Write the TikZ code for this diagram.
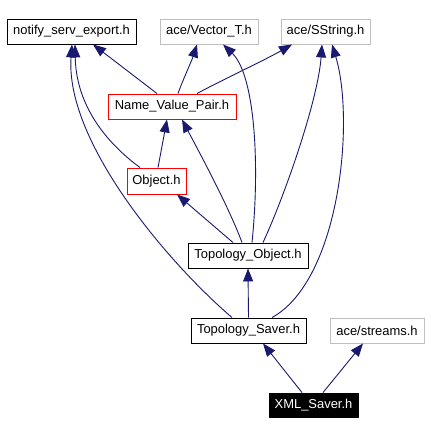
\documentclass[tikz,border=0pt]{standalone}
\usepackage{fontspec}
\setmainfont{Liberation Sans}
\usetikzlibrary{arrows.meta}
\definecolor{kante}{rgb}{0.1, 0.1, 0.44}
\definecolor{grau}{rgb}{0.75, 0.75, 0.75}
\definecolor{rot}{rgb}{1, 0, 0}

\begin{document}
\begin{tikzpicture}[x=1bp, y=-1bp,
  datei/.style={draw, fill=white, line width=0.9bp, inner sep=0pt, minimum height=25bp,
    font=\fontsize{13}{15}\selectfont},
  extern/.style={datei, draw=grau},
  markiert/.style={datei, draw=rot},
  haupt/.style={datei, draw=black, fill=black, text=white},
  kante/.style={draw=kante, line width=0.9bp, -{Triangle[length=13bp, width=10bp]}}]
\useasboundingbox (0,0) rectangle (430,435);

% includes
\node[datei, minimum width=129bp] (notify) at (71.5, 31.5) {notify\_serv\_export.h};
\node[extern, minimum width=98bp] (vector) at (209, 31.5) {ace/Vector\_T.h};
\node[extern, minimum width=89bp] (sstring) at (325.5, 31.5) {ace/SString.h};
\node[markiert, minimum width=128bp] (nvp) at (172, 106.5) {Name\_Value\_Pair.h};
\node[markiert, minimum width=59bp, minimum height=26bp] (object) at (156.5, 181) {Object.h};
\node[datei, minimum width=120bp] (topobj) at (248, 255.5) {Topology\_Object.h};
\node[datei, minimum width=115bp] (topsaver) at (248.5, 330.5) {Topology\_Saver.h};
\node[extern, minimum width=94bp] (streams) at (377, 330.5) {ace/streams.h};
\node[haupt, minimum width=89bp, minimum height=24bp] (xml) at (313.5, 405) {XML\_Saver.h};

% Name_Value_Pair.h
\draw[kante] ([xshift=-15bp]nvp.north) -- ([xshift=21.5bp]notify.south);
\draw[kante] ([xshift=6bp]nvp.north) .. controls (182,82) and (192,60) .. ([xshift=-12bp]vector.south);
\draw[kante] ([xshift=25bp]nvp.north) .. controls (222,80) and (265,60) .. ([xshift=-33.5bp]sstring.south);
% Object.h
\draw[kante] ([xshift=1.5bp]object.north) -- ([xshift=-5bp]nvp.south);
\draw[kante] ([xshift=-16.5bp]object.north) .. controls (100,138) and (76,100) .. ([xshift=3.5bp]notify.south);
% Topology_Object.h
\draw[kante] ([xshift=-15bp]topobj.north) -- ([xshift=20.5bp]object.south);
\draw[kante] ([xshift=-6bp]topobj.north) .. controls (228,205) and (198,150) .. ([xshift=10bp]nvp.south);
\draw[kante] ([xshift=4bp]topobj.north) .. controls (260,165) and (255,75) .. ([xshift=14bp]vector.south);
\draw[kante] ([xshift=15bp]topobj.north) .. controls (285,195) and (318,100) .. ([xshift=-3.5bp]sstring.south);
% Topology_Saver.h
\draw[kante] ([xshift=-16.5bp]topsaver.north) .. controls (165,260) and (65,140) .. ([xshift=0.5bp]notify.south);
\draw[kante] (topsaver.north) -- (topobj.south);
\draw[kante] ([xshift=23.5bp]topsaver.north) .. controls (340,280) and (355,120) .. ([xshift=6.5bp]sstring.south);
% XML_Saver.h
\draw[kante] ([xshift=-11.5bp]xml.north) -- ([xshift=14.5bp]topsaver.south);
\draw[kante] ([xshift=9.5bp]xml.north) -- ([xshift=-14bp]streams.south);
\end{tikzpicture}
\end{document}
